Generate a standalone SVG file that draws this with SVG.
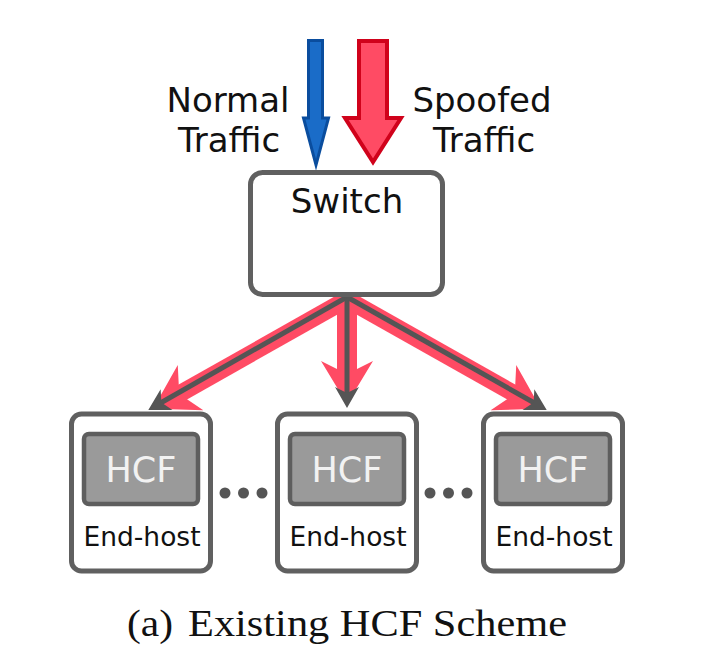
<svg xmlns="http://www.w3.org/2000/svg" width="702" height="652" viewBox="0 0 702 652">
<style>
.lbl{font-family:"DejaVu Sans",sans-serif;font-size:34px;fill:#111;text-anchor:middle}
.box{fill:#fff;stroke:#606060;stroke-width:5}
.hcf{fill:#9a9a9a;stroke:#5e5e5e;stroke-width:4.5}
.hcft{font-family:"DejaVu Sans",sans-serif;font-size:35px;fill:#f2f2f2;text-anchor:middle}
.eh{font-family:"DejaVu Sans",sans-serif;font-size:26.5px;fill:#111;text-anchor:middle}
.red{fill:none;stroke:#ff4b64;stroke-width:17}
.gray{fill:none;stroke:#555;stroke-width:5}
.dot{fill:#555}
.cap{font-family:"Liberation Serif",serif;font-size:38px;fill:#111}
</style>
<defs>
<marker id="rh" markerUnits="userSpaceOnUse" viewBox="-44 -28 64 56" refX="-24" refY="0" markerWidth="64" markerHeight="56" orient="auto" overflow="visible">
<path d="M0,0 L-43,-26 L-30,0 L-43,26 Z" fill="#ff4b64"/>
</marker>
<marker id="gh" markerUnits="userSpaceOnUse" viewBox="-22 -14 30 28" refX="-10" refY="0" markerWidth="30" markerHeight="28" orient="auto" overflow="visible">
<path d="M0,0 L-21,-12 L-15,0 L-21,12 Z" fill="#555"/>
</marker>
</defs>
<g id="in-arrows">
<path d="M308.5,40.5 L322.5,40.5 L322.5,118 L328.5,118 L316,165 L303.5,118 L308.5,118 Z" fill="#1a6cc8" stroke="#0a4d9e" stroke-width="3" stroke-linejoin="miter"/>
<path d="M359,41 L387,41 L387,118 L401,118 L373,162 L345,118 L359,118 Z" fill="#ff4b64" stroke="#d0021b" stroke-width="4"/>
</g>
<g id="label-normal">
<text class="lbl" x="228" y="112">Normal</text>
<text class="lbl" x="229" y="152">Traffic</text>
</g>
<g id="label-spoofed">
<text class="lbl" x="482" y="112">Spoofed</text>
<text class="lbl" x="484" y="152">Traffic</text>
</g>
<g id="connectors">
<path class="red" d="M344,301 L174,397" marker-end="url(#rh)"/>
<path class="red" d="M347,298 L347,380" marker-end="url(#rh)" style="stroke-width:20"/>
<path class="red" d="M350,301 L520,397" marker-end="url(#rh)"/>
<path class="gray" d="M347,297 L157,405" marker-end="url(#gh)"/>
<path class="gray" d="M347,297 L347,398" marker-end="url(#gh)"/>
<path class="gray" d="M347,297 L538,405" marker-end="url(#gh)"/>
</g>
<g id="switch">
<rect class="box" x="250.5" y="172.5" width="192" height="122" rx="12"/>
<text class="lbl" x="347" y="213">Switch</text>
</g>
<g id="host1">
<rect class="box" x="71.5" y="414" width="139" height="157" rx="10"/>
<rect class="hcf" x="84" y="434" width="114" height="70" rx="5"/>
<text class="hcft" x="141" y="482">HCF</text>
<text class="eh" x="142" y="546">End-host</text>
</g>
<g id="host2">
<rect class="box" x="277.5" y="414" width="139" height="157" rx="10"/>
<rect class="hcf" x="290" y="434" width="114" height="70" rx="5"/>
<text class="hcft" x="347" y="482">HCF</text>
<text class="eh" x="348" y="546">End-host</text>
</g>
<g id="host3">
<rect class="box" x="483.5" y="414" width="139" height="157" rx="10"/>
<rect class="hcf" x="496" y="434" width="114" height="70" rx="5"/>
<text class="hcft" x="553" y="482">HCF</text>
<text class="eh" x="554" y="546">End-host</text>
</g>
<g id="dots">
<circle class="dot" cx="225" cy="493" r="5.5"/>
<circle class="dot" cx="243.5" cy="493" r="5.5"/>
<circle class="dot" cx="262" cy="493" r="5.5"/>
<circle class="dot" cx="430" cy="493" r="5.5"/>
<circle class="dot" cx="448.5" cy="493" r="5.5"/>
<circle class="dot" cx="467" cy="493" r="5.5"/>
</g>
<g id="caption">
<text class="cap" x="127" y="636" textLength="46" lengthAdjust="spacingAndGlyphs">(a)</text>
<text class="cap" x="188" y="636" textLength="379" lengthAdjust="spacingAndGlyphs">Existing HCF Scheme</text>
</g>
</svg>
